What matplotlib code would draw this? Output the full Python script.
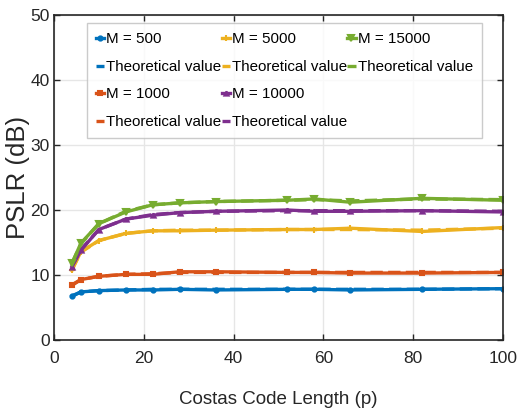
import matplotlib
matplotlib.use("Agg")
import matplotlib.pyplot as plt
from matplotlib.lines import Line2D

plt.rcParams['font.family'] = ['Liberation Sans', 'DejaVu Sans']

p = [4, 6, 10, 16, 22, 28, 36, 52, 58, 66, 82, 100]

m500 = [6.7, 7.4, 7.6, 7.7, 7.7, 7.8, 7.7, 7.8, 7.8, 7.7, 7.8, 7.9]
m500_th = [6.8, 7.4, 7.6, 7.7, 7.8, 7.8, 7.8, 7.8, 7.8, 7.8, 7.8, 7.9]
m1000 = [8.4, 9.3, 9.8, 10.1, 10.1, 10.5, 10.5, 10.4, 10.4, 10.3, 10.3, 10.4]
m1000_th = [8.5, 9.3, 9.8, 10.1, 10.2, 10.4, 10.4, 10.4, 10.4, 10.4, 10.4, 10.4]
m5000 = [10.7, 13.6, 15.3, 16.4, 16.8, 16.8, 16.9, 17.0, 17.0, 17.2, 16.7, 17.3]
m5000_th = [10.9, 13.5, 15.3, 16.4, 16.8, 16.9, 16.9, 17.0, 17.0, 17.0, 16.9, 17.2]
m10000 = [11.3, 13.8, 17.0, 18.6, 19.2, 19.6, 19.8, 20.0, 19.8, 19.8, 19.9, 19.7]
m10000_th = [11.3, 13.9, 17.0, 18.6, 19.3, 19.6, 19.8, 19.9, 19.9, 19.9, 19.9, 19.8]
m15000 = [11.8, 14.9, 17.9, 19.7, 20.8, 21.1, 21.3, 21.5, 21.7, 21.2, 21.8, 21.5]
m15000_th = [11.8, 14.8, 17.9, 19.8, 20.8, 21.1, 21.3, 21.5, 21.6, 21.4, 21.7, 21.6]

labels = ['M = 500', 'M = 1000', 'M = 5000', 'M = 10000', 'M = 15000']
theo_label = 'Theoretical value'

colors = ['#0072BD', '#D95319', '#EDB120', '#7E2F8E', '#77AC30']
markers = ['o', 's', '+', '^', 'v']
msizes = [3, 3, 5, 3, 4]

sim = [m500, m1000, m5000, m10000, m15000]
theo = [m500_th, m1000_th, m5000_th, m10000_th, m15000_th]

fig = plt.figure(figsize=(5.2, 4.11), dpi=100)
ax = fig.add_axes([0.1038, 0.1727, 0.8632, 0.7908])

handles = []
for s, t, c, mk, ms, lab in zip(sim, theo, colors, markers, msizes, labels):
    h1, = ax.plot(p, s, color=c, marker=mk, ms=ms, lw=2.4, mew=1.5, label=lab)
    h2, = ax.plot(p, t, color=c, ls='--', lw=2.4, label=theo_label)
    handles.append(h1)
    handles.append(h2)

blank = Line2D([], [], color='none')
leg_handles = handles + [blank, blank]
leg_labels = [h.get_label() for h in handles] + ['', '']

ax.set_xlim(0, 100)
ax.set_ylim(0, 50)
ax.set_xticks([0, 20, 40, 60, 80, 100])
ax.set_yticks([0, 10, 20, 30, 40, 50])
ax.grid(True, color='#e6e6e6', lw=1)
ax.set_axisbelow(True)
ax.tick_params(direction='in', top=True, right=True, labelsize=12.5, length=4, width=1, colors='#262626')
ax.tick_params(axis='x', pad=8)
ax.tick_params(axis='y', pad=3)
for sp in ax.spines.values():
    sp.set_color('#262626')
    sp.set_linewidth(1.2)

ax.set_xlabel('Costas Code Length (p)', fontsize=13.5, color='#262626', labelpad=18)
ax.set_ylabel('PSLR (dB)', fontsize=18.5, color='#262626')
ax.yaxis.set_label_coords(-0.054, 0.5)

leg = ax.legend(leg_handles, leg_labels, ncol=3, loc='upper left',
                bbox_to_anchor=(0.073, 0.975), fontsize=10.9,
                handlelength=0.55, handletextpad=0.15, columnspacing=0.0,
                labelspacing=0.9, borderpad=0.6, borderaxespad=0.0,
                frameon=True, fancybox=False, edgecolor='#bfbfbf')
leg.get_frame().set_linewidth(1.0)

fig.savefig('out.png', dpi=100)
